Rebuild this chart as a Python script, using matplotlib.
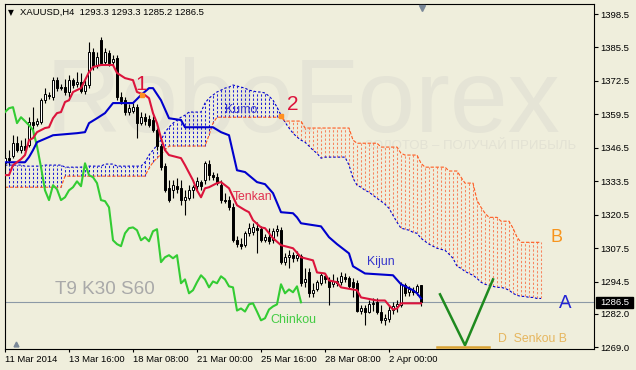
import numpy as np
import matplotlib
matplotlib.use("Agg")
import matplotlib.pyplot as plt
import matplotlib.transforms as mtransforms
from matplotlib.patches import Rectangle

plt.rcParams['font.family'] = ['Liberation Sans', 'DejaVu Sans']

# ---------------- data ----------------
symbol_title = 'XAUUSD,H4  1293.3 1293.3 1285.2 1286.5'

opens = [1340.5, 1342.5, 1343.3, 1348.3, 1345.6, 1347.2, 1347.5, 1356.5, 1355.7, 1356.5,
         1365.0, 1367.0, 1366.2, 1372.8, 1370.1, 1370.1, 1368.2, 1372.8, 1371.3, 1372.0,
         1368.5, 1370.9, 1383.7, 1378.7, 1388.4, 1379.8, 1383.3, 1379.8, 1381.4, 1366.2,
         1365.0, 1360.4, 1360.8, 1362.3, 1356.1, 1358.4, 1357.7, 1357.3, 1353.4, 1347.2,
         1339.4, 1330.8, 1330.0, 1331.6, 1330.8, 1326.2, 1326.9, 1330.0, 1331.6, 1333.2,
         1333.9, 1340.2, 1335.9, 1335.1, 1332.0, 1326.2, 1326.2, 1323.4, 1310.6, 1309.1,
         1308.7, 1313.3, 1313.7, 1315.3, 1314.9, 1310.6, 1311.8, 1310.6, 1314.1, 1314.5,
         1302.1, 1304.0, 1304.8, 1303.6, 1304.4, 1294.3, 1298.1, 1290.0, 1291.5, 1293.9,
         1296.6, 1295.0, 1293.5, 1294.6, 1294.3, 1296.2, 1295.8, 1294.3, 1293.9, 1283.3,
         1284.1, 1282.9, 1285.7, 1286.5, 1282.9, 1279.5, 1279.9, 1283.7, 1284.9, 1285.3,
         1293.1, 1290.4, 1291.2, 1290.4, 1293.3]
highs = [1344.8, 1345.6, 1351.4, 1351.0, 1349.5, 1350.3, 1358.4, 1362.3, 1358.0, 1365.8,
         1369.7, 1368.2, 1374.0, 1374.0, 1371.3, 1373.2, 1374.8, 1373.6, 1375.9, 1375.6,
         1373.0, 1387.6, 1385.3, 1383.7, 1389.6, 1385.3, 1384.5, 1382.6, 1382.6, 1368.2,
         1366.2, 1363.5, 1363.9, 1363.5, 1360.4, 1360.0, 1359.2, 1358.8, 1354.2, 1347.9,
         1340.5, 1333.9, 1333.9, 1334.7, 1333.9, 1330.0, 1332.0, 1332.0, 1335.1, 1333.9,
         1341.3, 1341.7, 1337.1, 1336.7, 1333.9, 1328.9, 1327.7, 1325.0, 1312.2, 1311.4,
         1314.1, 1317.2, 1317.2, 1317.6, 1316.0, 1313.0, 1315.3, 1315.3, 1316.4, 1315.6,
         1305.5, 1306.7, 1305.9, 1306.3, 1305.2, 1299.7, 1299.7, 1293.9, 1295.0, 1297.7,
         1297.7, 1296.2, 1297.4, 1296.2, 1298.1, 1297.7, 1296.6, 1295.8, 1295.0, 1285.3,
         1285.3, 1287.2, 1288.0, 1288.0, 1285.3, 1281.8, 1285.3, 1286.5, 1287.2, 1294.3,
         1293.9, 1292.7, 1292.3, 1293.5, 1293.3]
lows = [1338.6, 1339.8, 1342.5, 1344.8, 1344.4, 1344.8, 1346.8, 1351.4, 1354.9, 1355.7,
        1363.9, 1365.4, 1365.0, 1368.6, 1368.9, 1367.0, 1366.2, 1369.7, 1370.1, 1367.8,
        1367.5, 1369.7, 1376.7, 1377.5, 1378.7, 1379.1, 1378.3, 1378.3, 1365.0, 1363.5,
        1359.2, 1359.2, 1360.0, 1350.3, 1355.3, 1355.3, 1354.5, 1352.6, 1345.6, 1337.8,
        1329.3, 1325.4, 1326.9, 1328.9, 1324.2, 1320.3, 1326.2, 1326.9, 1330.0, 1330.0,
        1332.4, 1333.9, 1333.9, 1332.0, 1325.0, 1325.0, 1322.3, 1309.8, 1307.9, 1307.1,
        1307.9, 1312.2, 1312.6, 1305.5, 1309.8, 1309.8, 1309.1, 1309.4, 1312.2, 1301.3,
        1300.9, 1299.7, 1302.1, 1302.4, 1292.7, 1292.3, 1288.4, 1288.4, 1290.8, 1293.1,
        1293.9, 1285.3, 1292.3, 1292.7, 1293.1, 1294.3, 1291.9, 1288.4, 1282.6, 1281.8,
        1277.5, 1282.2, 1283.3, 1281.8, 1278.3, 1277.5, 1278.7, 1281.8, 1282.6, 1284.5,
        1288.8, 1288.8, 1289.2, 1289.2, 1285.2]
closes = [1342.5, 1341.7, 1348.3, 1345.6, 1347.2, 1345.6, 1356.5, 1355.3, 1356.9, 1365.0,
          1367.4, 1366.6, 1372.8, 1369.7, 1369.7, 1368.2, 1372.8, 1370.9, 1372.0, 1368.5,
          1371.0, 1383.7, 1378.3, 1381.8, 1379.5, 1383.7, 1379.5, 1381.0, 1366.2, 1364.7,
          1360.4, 1361.9, 1362.3, 1356.1, 1358.4, 1356.9, 1355.3, 1353.4, 1347.2, 1339.0,
          1330.0, 1326.2, 1332.0, 1330.4, 1326.2, 1327.3, 1330.0, 1331.2, 1333.5, 1331.6,
          1340.5, 1335.9, 1335.1, 1332.8, 1326.2, 1325.8, 1323.4, 1310.6, 1309.1, 1308.3,
          1313.3, 1315.3, 1315.6, 1314.5, 1310.6, 1311.8, 1310.2, 1314.1, 1314.9, 1302.1,
          1304.0, 1304.8, 1303.6, 1304.8, 1293.9, 1295.4, 1290.0, 1291.2, 1294.3, 1297.0,
          1295.4, 1292.3, 1294.6, 1293.9, 1296.6, 1295.4, 1292.7, 1292.3, 1283.3, 1284.1,
          1282.9, 1285.7, 1286.1, 1282.9, 1279.5, 1280.3, 1283.7, 1284.9, 1285.7, 1293.5,
          1290.0, 1291.5, 1290.4, 1292.7, 1286.5]

tenkan_bars = [0, 1, 2, 4, 5, 6, 7, 8, 10, 11, 12, 13, 14, 15, 16, 17, 19, 20, 21, 22,
               24, 27, 28, 30, 32, 33, 35, 36, 37, 38, 39, 40, 41, 44, 45, 47, 48, 49, 50, 51,
               53, 54, 56, 58, 60, 61, 62, 64, 65, 67, 69, 72, 74, 77, 78, 80, 81, 83, 84, 88,
               89, 93, 95, 96, 97, 98, 99, 104]
tenkan_vals = [1335.9, 1335.9, 1339.8, 1342.1, 1343.7, 1349.5, 1350.3, 1352.6, 1354.2, 1354.5,
               1358.0, 1360.0, 1360.4, 1364.3, 1365.0, 1368.2, 1369.7, 1372.8, 1375.9, 1377.9,
               1378.7, 1378.7, 1375.6, 1373.6, 1372.8, 1368.2, 1367.0, 1365.8, 1360.0, 1356.1,
               1350.3, 1345.6, 1343.7, 1342.5, 1339.8, 1333.9, 1330.0, 1327.3, 1330.8, 1331.2,
               1332.8, 1333.2, 1330.8, 1324.2, 1322.3, 1321.5, 1318.4, 1315.6, 1315.3, 1311.4,
               1308.7, 1307.5, 1304.0, 1302.8, 1298.1, 1297.7, 1295.0, 1294.3, 1292.3, 1291.2,
               1288.4, 1287.2, 1287.2, 1285.3, 1283.7, 1284.1, 1286.1, 1286.1]

kijun_bars = [0, 5, 6, 7, 8, 11, 12, 18, 20, 21, 23, 25, 27, 32, 34, 36, 37, 39, 41, 44,
              45, 52, 54, 56, 58, 60, 63, 65, 67, 69, 72, 73, 74, 79, 81, 83, 86, 87, 90, 97,
              99, 102, 103, 104]
kijun_vals = [1340.9, 1340.9, 1342.9, 1345.6, 1348.7, 1350.7, 1351.4, 1352.2, 1352.6, 1356.1,
              1358.0, 1360.0, 1363.9, 1363.9, 1367.0, 1369.7, 1369.7, 1365.0, 1358.0, 1357.3,
              1354.5, 1354.5, 1352.6, 1351.4, 1337.8, 1337.1, 1333.2, 1332.4, 1328.9, 1321.5,
              1321.1, 1319.5, 1317.2, 1316.0, 1311.8, 1309.1, 1305.5, 1300.5, 1297.7, 1297.0,
              1293.5, 1291.2, 1290.0, 1288.0]

# Senkou spans, one value per bar (bar 0 .. 134, already shifted 30 bars ahead)
senkou_a = ([1339.8] * 5 + [1339.4] * 5 + [1339.8] * 5 + [1339.0] * 5 + [1339.4] * 5 +
            [1340.2] * 3 + [1339.4] * 7 +
            [1340.9, 1343.7, 1345.6, 1347.5, 1349.5, 1352.6, 1354.5, 1356.1, 1357.3, 1358.4, 1359.2] +
            [1360.4] * 4 +
            [1363.9, 1365.8, 1367.0, 1368.2, 1368.9, 1369.7, 1370.1, 1370.9, 1370.5, 1370.1,
             1369.7, 1368.9, 1368.6, 1368.2, 1368.2, 1367.8, 1366.6, 1365.0, 1362.3, 1359.2,
             1356.5, 1354.2, 1352.2, 1350.7, 1349.5, 1348.7, 1347.2, 1345.6, 1344.4, 1342.5] +
            [1342.9] * 6 +
            [1339.8, 1334.7, 1332.0, 1331.2, 1330.0, 1329.3, 1328.1, 1326.9, 1325.8, 1324.6,
             1323.0, 1320.3, 1317.6, 1315.3, 1314.9, 1314.5, 1313.7, 1313.3, 1311.4, 1310.2,
             1309.1, 1308.3, 1307.5, 1307.1, 1306.7, 1305.2, 1303.6, 1300.5, 1299.7, 1298.5,
             1297.7, 1297.0, 1295.8, 1294.3, 1293.5, 1293.1, 1292.7, 1292.3, 1292.3, 1291.9,
             1291.2, 1290.0, 1289.2, 1288.8, 1288.8, 1288.4, 1288.4, 1288.0, 1288.0])
senkou_b = ([1331.2] * 15 + [1335.5] * 21 +
            [1338.6, 1340.9, 1342.5, 1344.0, 1345.6] + [1347.2] * 10 +
            [1351.4, 1356.1] + [1358.4] * 17 + [1356.9] * 5 + [1354.2] * 12 +
            [1349.5] + [1348.3] * 6 + [1346.8] * 5 + [1344.4] + [1343.7] * 4 +
            [1340.5] + [1339.0] * 6 + [1337.5] * 3 + [1335.1] + [1332.8] * 3 +
            [1326.2, 1323.4, 1321.1] + [1319.5] * 3 + [1318.0] * 3 +
            [1315.3, 1311.8] + [1309.8] * 6)

chinkou_shift = 30
last_price = 1286.5

x_tick_bars = [0, 16, 32, 48, 64, 80, 96]
x_tick_labels = ['11 Mar 2014', '13 Mar 16:00', '18 Mar 08:00', '21 Mar 00:00',
                 '25 Mar 16:00', '28 Mar 08:00', '2 Apr 00:00']
y_tick_values = [1398.5, 1385.5, 1372.5, 1359.5, 1346.5, 1333.5, 1320.5,
                 1307.5, 1294.5, 1282.0, 1269.0]

# hand-drawn forecast annotation
v_bars = [108.75, 115.0, 122.0]
v_prices = [1289.6, 1269.8, 1295.4]
target_bars = [108.0, 121.0]
target_price = 1269.0
cross_bars = [34.25, 69.0]
cross_prices = [1367.0, 1358.8]

# ---------------- figure ----------------
W, H, DPI = 636, 370, 100
BG = '#EFEEDC'


def fx(x):
    return x / W


def fy(y):
    return 1 - y / H


fig = plt.figure(figsize=(W / DPI, H / DPI), dpi=DPI, facecolor=BG)
PL, PR, PT, PB = 4.5, 594.0, 4.3, 349.3
ax = fig.add_axes([PL / W, 1 - PB / H, (PR - PL) / W, (PB - PT) / H])
ax.set_facecolor(BG)
ax.set_xlim(-0.125, 147.25)
ax.set_ylim(1268.24, 1402.27)

# watermark
ax.text(fx(45), fy(131), 'RoboForex', transform=fig.transFigure, fontsize=75,
        color='#E5E4D6', ha='left', va='baseline', zorder=0)
ax.text(fx(576), fy(146), 'ЗОЛОТОВ – ПОЛУЧАЙ ПРИБЫЛЬ', transform=fig.transFigure,
        fontsize=9.5, color='#E3E2D4', ha='right', va='center', zorder=0)

# cloud
sa = np.array(senkou_a)
sb = np.array(senkou_b)
cidx = np.arange(len(sa))
bull = sa >= sb
dash = [(0, (2.2, 1.8))]
ax.vlines(cidx[bull], sb[bull], sa[bull], colors='#2020D8', lw=0.75, linestyles=dash, zorder=1.2)
ax.vlines(cidx[~bull], sa[~bull], sb[~bull], colors='#F7855F', lw=0.75, linestyles=dash, zorder=1.2)
ax.plot(cidx, sa, color='#0000D0', lw=0.8, ls=(0, (2.2, 1.8)), zorder=1.3)
ax.plot(cidx, sb, color='#FF5A20', lw=0.8, ls=(0, (3, 1.5)), zorder=1.3)

# price line
ax.axhline(last_price, color='#8C99A6', lw=0.8, zorder=1.5)

# candles
o, h, l, c = map(np.array, (opens, highs, lows, closes))
idx = np.arange(len(c))
ax.vlines(idx, l, h, colors='black', lw=0.8, zorder=3)
body_bottom = np.minimum(o, c)
body_height = np.maximum(np.abs(c - o), 0.35)
face = np.where(c >= o, 'white', 'black')
ax.bar(idx, body_height, bottom=body_bottom, width=0.5, color=face,
       edgecolor='black', linewidth=0.7, zorder=3.1)

# ichimoku lines
ax.plot(idx[:-chinkou_shift], c[chinkou_shift:], color='#33CC33', lw=1.5, zorder=4)
ax.plot(kijun_bars, kijun_vals, color='#0000CD', lw=1.5, zorder=4.1)
ax.plot(tenkan_bars, tenkan_vals, color='#DC143C', lw=1.5, zorder=4.2)
ax.plot(cross_bars, cross_prices, 's', ms=3.2, color='#FF9020', zorder=5)

# forecast drawing
ax.plot(v_bars, v_prices, color='#1F8A1F', lw=1.8, zorder=5)
ax.plot(target_bars, [target_price] * 2, color='#D9A232', lw=1.8, zorder=5)

# axes styling
for s in ax.spines.values():
    s.set_color('black')
    s.set_linewidth(0.8)
ax.yaxis.tick_right()
ax.set_yticks(y_tick_values)
ax.set_yticklabels([f'{v:.1f}' for v in y_tick_values])
ax.tick_params(axis='y', direction='out', length=3, width=0.8, pad=1.5,
               labelsize=6.8, colors='black')
ax.set_xticks(x_tick_bars)
ax.set_xticklabels(x_tick_labels)
ax.tick_params(axis='x', direction='out', length=2.5, width=0.8, pad=1.5,
               labelsize=6.8, colors='black')
for lbl in ax.get_xticklabels():
    lbl.set_ha('left')

# current price box
blend = mtransforms.blended_transform_factory(ax.transAxes, ax.transData)
box_x0 = (596 - PL) / (PR - PL)
box_x1 = (633 - PL) / (PR - PL)
ax.add_patch(Rectangle((box_x0, last_price - 2.2), box_x1 - box_x0, 4.4,
                       transform=blend, facecolor='black', edgecolor='black',
                       clip_on=False, zorder=6))
ax.text((box_x0 + box_x1) / 2, last_price, f'{last_price:.1f}', transform=blend,
        color='white', fontsize=6.8, ha='center', va='center', clip_on=False, zorder=7)

# shift marker at top, corner marker at bottom-left
top_blend = mtransforms.blended_transform_factory(ax.transData, ax.transAxes)
ax.plot([104.25], [0.99], marker='v', ms=4.5, color='#7A8899', transform=top_blend,
        clip_on=False, zorder=7)
ax.plot([0.02], [0.015], marker='^', ms=3.5, color='#7A8899', transform=ax.transAxes,
        clip_on=False, zorder=7)

# title
fig.text(fx(11), fy(12.5), '▼', fontsize=5.5, family='DejaVu Sans', ha='center', va='center')
fig.text(fx(20), fy(12.5), symbol_title, fontsize=6.8, ha='left', va='center')

# annotations
fig.text(fx(141), fy(84), '1', color='#DC143C', fontsize=15, ha='center', va='center')
fig.text(fx(293), fy(104), '2', color='#DC143C', fontsize=15, ha='center', va='center')
fig.text(fx(241), fy(110), 'Kumo', color='#3A3AD0', fontsize=9, ha='center', va='center')
fig.text(fx(253), fy(197), 'Tenkan', color='#E0304F', fontsize=8.8, ha='center', va='center')
fig.text(fx(381), fy(262), 'Kijun', color='#3535CC', fontsize=8.8, ha='center', va='center')
fig.text(fx(293), fy(320), 'Chinkou', color='#44CC44', fontsize=9, ha='center', va='center')
fig.text(fx(105), fy(290), 'T9 K30 S60', color='#A9A9A9', fontsize=13.6, ha='center', va='center')
fig.text(fx(557), fy(237), 'B', color='#F7941D', fontsize=13, ha='center', va='center')
fig.text(fx(565), fy(304), 'A', color='#2424D4', fontsize=13.5, ha='center', va='center')
fig.text(fx(498), fy(339), 'D  Senkou B', color='#E6B65E', fontsize=8.8, ha='left', va='center')

fig.savefig('out.png', dpi=DPI, facecolor=BG)
